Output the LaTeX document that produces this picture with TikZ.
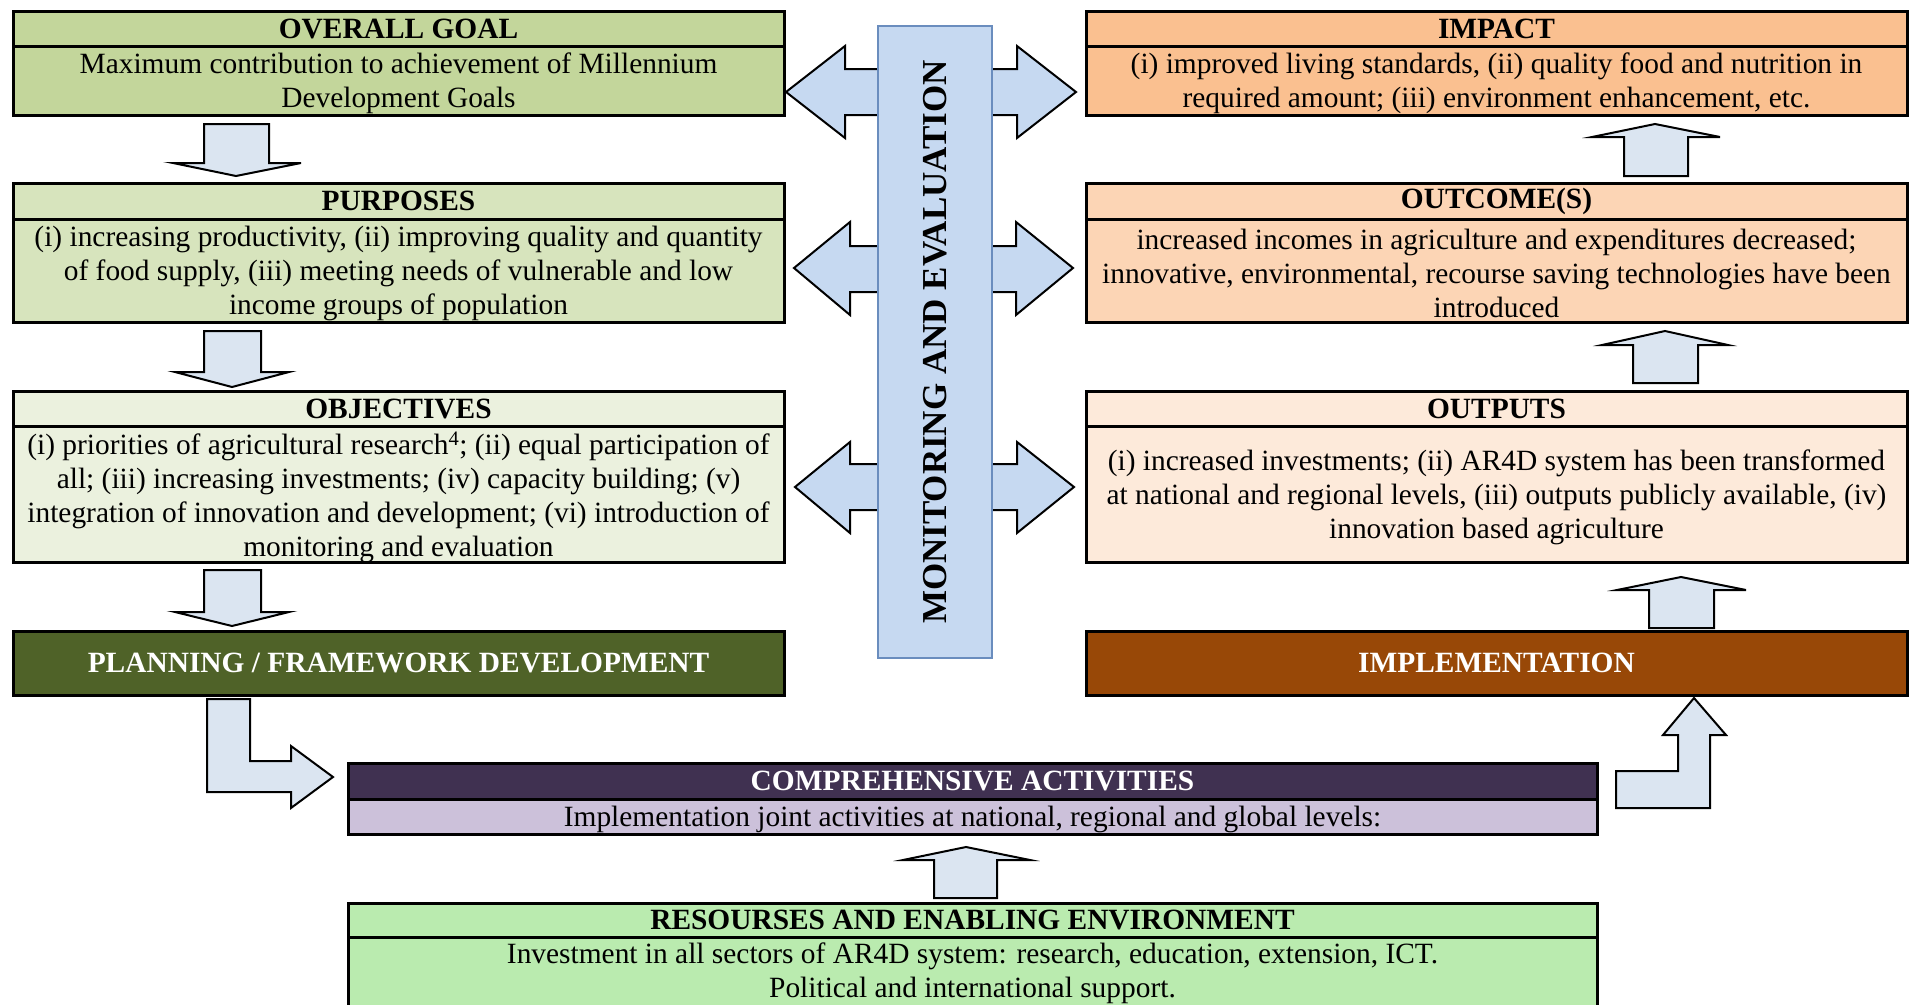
\documentclass[tikz,border=0pt]{standalone}
\usepackage{fontspec}
\setmainfont{Liberation Serif}
\definecolor{cGoal}{HTML}{C3D69B}
\definecolor{cPur}{HTML}{D7E4BD}
\definecolor{cObj}{HTML}{EBF1DE}
\definecolor{cPlan}{HTML}{4F6228}
\definecolor{cImp}{HTML}{FAC090}
\definecolor{cOutc}{HTML}{FCD5B5}
\definecolor{cOutp}{HTML}{FDEADA}
\definecolor{cImpl}{HTML}{984807}
\definecolor{cCompH}{HTML}{403151}
\definecolor{cCompB}{HTML}{CCC1DA}
\definecolor{cRes}{HTML}{BAEBAF}
\definecolor{cArrow}{HTML}{DBE5F1}
\definecolor{cME}{HTML}{C6D9F1}
\definecolor{cMEline}{HTML}{6A8DBE}
\begin{document}
\begin{tikzpicture}[x=1pt,y=-1pt,
  cell/.style={draw=black, line width=3pt, inner sep=0pt},
  head/.style={cell, align=center, font=\fontsize{29.4}{34}\selectfont\bfseries},
  txt/.style={inner sep=0pt, align=center, font=\fontsize{29.4}{34}\selectfont, yshift=-3pt},
  leftcol/.style={minimum width=771pt},
  rightcol/.style={minimum width=821pt},
  midcol/.style={minimum width=1249pt},
  blockarrow/.style={draw=black, line width=2pt, fill=cArrow, line join=miter},
  mearrow/.style={draw=black, line width=2pt, fill=cME, line join=miter}]
\useasboundingbox (0,0) rectangle (1910,1004);

% ---- monitoring & evaluation double arrows (behind the bar) ----
\draw[mearrow] (786,92) -- (845,46) -- (845,69) -- (1017,69) -- (1017,46) -- (1076,92)
  -- (1017,138) -- (1017,115) -- (845,115) -- (845,138) -- cycle;
\draw[mearrow] (794,268) -- (850,222) -- (850,246) -- (1016,246) -- (1016,222) -- (1073,268)
  -- (1016,315) -- (1016,292) -- (850,292) -- (850,315) -- cycle;
\draw[mearrow] (795,487) -- (850,442) -- (850,464) -- (1017,464) -- (1017,442) -- (1074,487)
  -- (1017,533) -- (1017,510) -- (850,510) -- (850,533) -- cycle;
\node[draw=cMEline, line width=1.5pt, fill=cME, minimum width=114pt, minimum height=632pt,
  inner sep=0pt] (me) at (935,342) {};
\node[rotate=90, font=\fontsize{35}{40}\selectfont\bfseries] (metext) at (me.center)
  {MONITORING AND EVALUATION};

% ---- left column ----
\node[head, leftcol, fill=cGoal, minimum height=35pt] (goalT) at (398.5,28.5) {OVERALL GOAL};
\node[cell, leftcol, fill=cGoal, minimum height=69pt] (goalB) at (398.5,80.5) {};
\node[txt] (goalX) at (goalB.center)
  {Maximum contribution to achievement of Millennium\\Development Goals};
\node[head, leftcol, fill=cPur, minimum height=36pt] (purT) at (398.5,201) {PURPOSES};
\node[cell, leftcol, fill=cPur, minimum height=103pt] (purB) at (398.5,270.5) {};
\node[txt] (purX) at (purB.center)
  {(i) increasing productivity, (ii) improving quality and quantity\\
   of food supply, (iii) meeting needs of vulnerable and low\\
   income groups of population};
\node[head, leftcol, fill=cObj, minimum height=35pt] (objT) at (398.5,408.5) {OBJECTIVES};
\node[cell, leftcol, fill=cObj, minimum height=136pt] (objB) at (398.5,494) {};
\node[txt] (objX) at (objB.center)
  {(i) priorities of agricultural research\textsuperscript{4}; (ii) equal participation of\\
   all; (iii) increasing investments; (iv) capacity building; (v)\\
   integration of innovation and development; (vi) introduction of\\
   monitoring and evaluation};
\node[head, leftcol, fill=cPlan, text=white, minimum height=64pt] (plan) at (398.5,663)
  {PLANNING / FRAMEWORK DEVELOPMENT};

% ---- right column ----
\node[head, rightcol, fill=cImp, minimum height=35pt] (impT) at (1496.5,28.5) {IMPACT};
\node[cell, rightcol, fill=cImp, minimum height=69pt] (impB) at (1496.5,80.5) {};
\node[txt] (impX) at (impB.center)
  {(i) improved living standards, (ii) quality food and nutrition in\\
   required amount; (iii) environment enhancement, etc.};
\node[head, rightcol, fill=cOutc, minimum height=36pt] (outcT) at (1496.5,201) {OUTCOME(S)};
\node[cell, rightcol, fill=cOutc, minimum height=103pt] (outcB) at (1496.5,270.5) {};
\node[txt] (outcX) at (outcB.center)
  {increased incomes in agriculture and expenditures decreased;\\
   innovative, environmental, recourse saving technologies have been\\
   introduced};
\node[head, rightcol, fill=cOutp, minimum height=35pt] (outpT) at (1496.5,408.5) {OUTPUTS};
\node[cell, rightcol, fill=cOutp, minimum height=136pt] (outpB) at (1496.5,494) {};
\node[txt] (outpX) at (outpB.center)
  {(i) increased investments; (ii) AR4D system has been transformed\\
   at national and regional levels, (iii) outputs publicly available, (iv)\\
   innovation based agriculture};
\node[head, rightcol, fill=cImpl, text=white, minimum height=64pt] (impl) at (1496.5,663)
  {IMPLEMENTATION};

% ---- bottom row ----
\node[head, midcol, fill=cCompH, text=white, minimum height=36pt] (compT) at (972.5,781)
  {COMPREHENSIVE ACTIVITIES};
\node[cell, midcol, fill=cCompB, minimum height=35pt] (compB) at (972.5,816.5) {};
\node[txt] (compX) at (compB.center)
  {Implementation joint activities at national, regional and global levels:};
\node[head, midcol, fill=cRes, minimum height=34pt] (resT) at (972.5,920)
  {RESOURSES AND ENABLING ENVIRONMENT};
\node[cell, midcol, fill=cRes, minimum height=73pt] (resB) at (972.5,973.5) {};
\node[txt, yshift=3pt] (resX) at (972.5,973.5)
  {Investment in all sectors of AR4D system: research, education, extension, ICT.\\
   Political and international support.};

% ---- block arrows, left column (downwards) ----
\draw[blockarrow] (204,124) -- (269,124) -- (269,163) -- (301,163) -- (236,176)
  -- (173,163) -- (204,163) -- cycle;
\draw[blockarrow] (204,331) -- (261,331) -- (261,372) -- (289,372) -- (232,387)
  -- (175,372) -- (204,372) -- cycle;
\draw[blockarrow] (204,570) -- (261,570) -- (261,612) -- (289,612) -- (232,626)
  -- (175,612) -- (204,612) -- cycle;

% ---- block arrows, right column (upwards) ----
\draw[blockarrow] (1624,176) -- (1688,176) -- (1688,137) -- (1720,137) -- (1655,124)
  -- (1592,137) -- (1624,137) -- cycle;
\draw[blockarrow] (1633,383) -- (1698,383) -- (1698,345) -- (1728,345) -- (1665,331)
  -- (1602,345) -- (1633,345) -- cycle;
\draw[blockarrow] (1649,628) -- (1714,628) -- (1714,590) -- (1746,590) -- (1681,577)
  -- (1617,590) -- (1649,590) -- cycle;

% ---- resources up to activities ----
\draw[blockarrow] (934,898) -- (997,898) -- (997,860) -- (1030,860) -- (966,847)
  -- (903,860) -- (934,860) -- cycle;

% ---- bent arrows ----
\draw[blockarrow] (207,699) -- (250,699) -- (250,761) -- (291,761) -- (291,746)
  -- (333,777) -- (291,808) -- (291,792) -- (207,792) -- cycle;
\draw[blockarrow] (1616,771) -- (1678,771) -- (1678,735) -- (1663,735) -- (1694,698)
  -- (1726,735) -- (1710,735) -- (1710,808) -- (1616,808) -- cycle;
\end{tikzpicture}
\end{document}
